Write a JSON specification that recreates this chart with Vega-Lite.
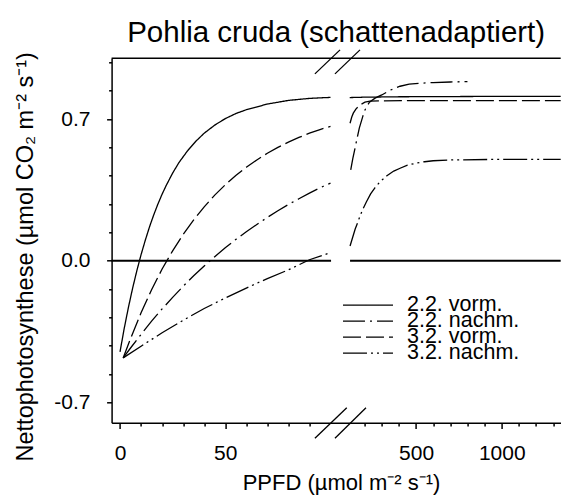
{
  "$schema": "https://vega.github.io/schema/vega-lite/v6.json",
  "width": 449.1,
  "height": 364.4,
  "autosize": {"type": "none"},
  "padding": {"left": 111.6, "top": 58.3, "right": 0, "bottom": 79.3},
  "background": "white",
  "title": {"text": "Pohlia cruda (schattenadaptiert)", "fontSize": 29.5, "font": "Liberation Sans", "fontWeight": "normal", "color": "black", "anchor": "middle", "baseline": "alphabetic", "offset": -22},
  "config": {"font": "Liberation Sans", "view": {"stroke": null}},
  "datasets": {
    "curves": [
      {"s": "2.2. vorm.", "seg": "L", "x": 0, "y": -0.45},
      {"s": "2.2. vorm.", "seg": "L", "x": 2, "y": -0.334},
      {"s": "2.2. vorm.", "seg": "L", "x": 4, "y": -0.23},
      {"s": "2.2. vorm.", "seg": "L", "x": 6, "y": -0.135},
      {"s": "2.2. vorm.", "seg": "L", "x": 8, "y": -0.049},
      {"s": "2.2. vorm.", "seg": "L", "x": 10, "y": 0.03},
      {"s": "2.2. vorm.", "seg": "L", "x": 12, "y": 0.101},
      {"s": "2.2. vorm.", "seg": "L", "x": 14, "y": 0.167},
      {"s": "2.2. vorm.", "seg": "L", "x": 16, "y": 0.226},
      {"s": "2.2. vorm.", "seg": "L", "x": 18, "y": 0.28},
      {"s": "2.2. vorm.", "seg": "L", "x": 20, "y": 0.329},
      {"s": "2.2. vorm.", "seg": "L", "x": 22, "y": 0.373},
      {"s": "2.2. vorm.", "seg": "L", "x": 25, "y": 0.433},
      {"s": "2.2. vorm.", "seg": "L", "x": 28, "y": 0.485},
      {"s": "2.2. vorm.", "seg": "L", "x": 32, "y": 0.542},
      {"s": "2.2. vorm.", "seg": "L", "x": 36, "y": 0.59},
      {"s": "2.2. vorm.", "seg": "L", "x": 40, "y": 0.63},
      {"s": "2.2. vorm.", "seg": "L", "x": 45, "y": 0.67},
      {"s": "2.2. vorm.", "seg": "L", "x": 50, "y": 0.702},
      {"s": "2.2. vorm.", "seg": "L", "x": 55, "y": 0.727},
      {"s": "2.2. vorm.", "seg": "L", "x": 60, "y": 0.746},
      {"s": "2.2. vorm.", "seg": "L", "x": 70, "y": 0.774},
      {"s": "2.2. vorm.", "seg": "L", "x": 80, "y": 0.792},
      {"s": "2.2. vorm.", "seg": "L", "x": 90, "y": 0.802},
      {"s": "2.2. vorm.", "seg": "L", "x": 100, "y": 0.807},
      {"s": "2.2. vorm.", "seg": "R", "x": 113, "y": 0.806},
      {"s": "2.2. vorm.", "seg": "R", "x": 200, "y": 0.808},
      {"s": "2.2. vorm.", "seg": "R", "x": 400, "y": 0.81},
      {"s": "2.2. vorm.", "seg": "R", "x": 700, "y": 0.811},
      {"s": "2.2. vorm.", "seg": "R", "x": 1000, "y": 0.812},
      {"s": "2.2. vorm.", "seg": "R", "x": 1344, "y": 0.812},

      {"s": "3.2. vorm.", "seg": "L", "x": 1.5, "y": -0.48},
      {"s": "3.2. vorm.", "seg": "L", "x": 5, "y": -0.385},
      {"s": "3.2. vorm.", "seg": "L", "x": 10, "y": -0.257},
      {"s": "3.2. vorm.", "seg": "L", "x": 15, "y": -0.143},
      {"s": "3.2. vorm.", "seg": "L", "x": 20, "y": -0.041},
      {"s": "3.2. vorm.", "seg": "L", "x": 25, "y": 0.049},
      {"s": "3.2. vorm.", "seg": "L", "x": 30, "y": 0.13},
      {"s": "3.2. vorm.", "seg": "L", "x": 35, "y": 0.202},
      {"s": "3.2. vorm.", "seg": "L", "x": 40, "y": 0.266},
      {"s": "3.2. vorm.", "seg": "L", "x": 45, "y": 0.324},
      {"s": "3.2. vorm.", "seg": "L", "x": 50, "y": 0.375},
      {"s": "3.2. vorm.", "seg": "L", "x": 55, "y": 0.421},
      {"s": "3.2. vorm.", "seg": "L", "x": 60, "y": 0.462},
      {"s": "3.2. vorm.", "seg": "L", "x": 65, "y": 0.498},
      {"s": "3.2. vorm.", "seg": "L", "x": 70, "y": 0.531},
      {"s": "3.2. vorm.", "seg": "L", "x": 75, "y": 0.56},
      {"s": "3.2. vorm.", "seg": "L", "x": 80, "y": 0.586},
      {"s": "3.2. vorm.", "seg": "L", "x": 85, "y": 0.609},
      {"s": "3.2. vorm.", "seg": "L", "x": 90, "y": 0.63},
      {"s": "3.2. vorm.", "seg": "L", "x": 95, "y": 0.648},
      {"s": "3.2. vorm.", "seg": "L", "x": 100, "y": 0.664},
      {"s": "3.2. vorm.", "seg": "R", "x": 115, "y": 0.679},
      {"s": "3.2. vorm.", "seg": "R", "x": 125, "y": 0.71},
      {"s": "3.2. vorm.", "seg": "R", "x": 134, "y": 0.729},
      {"s": "3.2. vorm.", "seg": "R", "x": 150, "y": 0.75},
      {"s": "3.2. vorm.", "seg": "R", "x": 163, "y": 0.761},
      {"s": "3.2. vorm.", "seg": "R", "x": 180, "y": 0.773},
      {"s": "3.2. vorm.", "seg": "R", "x": 202, "y": 0.783},
      {"s": "3.2. vorm.", "seg": "R", "x": 231, "y": 0.788},
      {"s": "3.2. vorm.", "seg": "R", "x": 300, "y": 0.79},
      {"s": "3.2. vorm.", "seg": "R", "x": 500, "y": 0.791},
      {"s": "3.2. vorm.", "seg": "R", "x": 1344, "y": 0.791},

      {"s": "2.2. nachm.", "seg": "L", "x": 1.5, "y": -0.48},
      {"s": "2.2. nachm.", "seg": "L", "x": 5, "y": -0.431},
      {"s": "2.2. nachm.", "seg": "L", "x": 10, "y": -0.364},
      {"s": "2.2. nachm.", "seg": "L", "x": 15, "y": -0.298},
      {"s": "2.2. nachm.", "seg": "L", "x": 20, "y": -0.238},
      {"s": "2.2. nachm.", "seg": "L", "x": 25, "y": -0.181},
      {"s": "2.2. nachm.", "seg": "L", "x": 30, "y": -0.126},
      {"s": "2.2. nachm.", "seg": "L", "x": 35, "y": -0.074},
      {"s": "2.2. nachm.", "seg": "L", "x": 40, "y": -0.026},
      {"s": "2.2. nachm.", "seg": "L", "x": 45, "y": 0.02},
      {"s": "2.2. nachm.", "seg": "L", "x": 50, "y": 0.064},
      {"s": "2.2. nachm.", "seg": "L", "x": 55, "y": 0.105},
      {"s": "2.2. nachm.", "seg": "L", "x": 60, "y": 0.143},
      {"s": "2.2. nachm.", "seg": "L", "x": 65, "y": 0.179},
      {"s": "2.2. nachm.", "seg": "L", "x": 70, "y": 0.214},
      {"s": "2.2. nachm.", "seg": "L", "x": 75, "y": 0.247},
      {"s": "2.2. nachm.", "seg": "L", "x": 80, "y": 0.278},
      {"s": "2.2. nachm.", "seg": "L", "x": 85, "y": 0.306},
      {"s": "2.2. nachm.", "seg": "L", "x": 90, "y": 0.334},
      {"s": "2.2. nachm.", "seg": "L", "x": 95, "y": 0.36},
      {"s": "2.2. nachm.", "seg": "L", "x": 100, "y": 0.383},
      {"s": "2.2. nachm.", "seg": "R", "x": 119, "y": 0.449},
      {"s": "2.2. nachm.", "seg": "R", "x": 131, "y": 0.505},
      {"s": "2.2. nachm.", "seg": "R", "x": 144, "y": 0.556},
      {"s": "2.2. nachm.", "seg": "R", "x": 156, "y": 0.605},
      {"s": "2.2. nachm.", "seg": "R", "x": 169, "y": 0.655},
      {"s": "2.2. nachm.", "seg": "R", "x": 189, "y": 0.712},
      {"s": "2.2. nachm.", "seg": "R", "x": 202, "y": 0.745},
      {"s": "2.2. nachm.", "seg": "R", "x": 228, "y": 0.783},
      {"s": "2.2. nachm.", "seg": "R", "x": 261, "y": 0.803},
      {"s": "2.2. nachm.", "seg": "R", "x": 300, "y": 0.819},
      {"s": "2.2. nachm.", "seg": "R", "x": 350, "y": 0.843},
      {"s": "2.2. nachm.", "seg": "R", "x": 407, "y": 0.862},
      {"s": "2.2. nachm.", "seg": "R", "x": 460, "y": 0.872},
      {"s": "2.2. nachm.", "seg": "R", "x": 523, "y": 0.877},
      {"s": "2.2. nachm.", "seg": "R", "x": 600, "y": 0.88},
      {"s": "2.2. nachm.", "seg": "R", "x": 700, "y": 0.883},
      {"s": "2.2. nachm.", "seg": "R", "x": 800, "y": 0.885},

      {"s": "3.2. nachm.", "seg": "L", "x": 1.5, "y": -0.48},
      {"s": "3.2. nachm.", "seg": "L", "x": 10, "y": -0.422},
      {"s": "3.2. nachm.", "seg": "L", "x": 20, "y": -0.356},
      {"s": "3.2. nachm.", "seg": "L", "x": 30, "y": -0.294},
      {"s": "3.2. nachm.", "seg": "L", "x": 40, "y": -0.236},
      {"s": "3.2. nachm.", "seg": "L", "x": 50, "y": -0.184},
      {"s": "3.2. nachm.", "seg": "L", "x": 60, "y": -0.135},
      {"s": "3.2. nachm.", "seg": "L", "x": 70, "y": -0.088},
      {"s": "3.2. nachm.", "seg": "L", "x": 80, "y": -0.045},
      {"s": "3.2. nachm.", "seg": "L", "x": 90, "y": 0.005},
      {"s": "3.2. nachm.", "seg": "L", "x": 100, "y": 0.04},
      {"s": "3.2. nachm.", "seg": "R", "x": 115, "y": 0.073},
      {"s": "3.2. nachm.", "seg": "R", "x": 130, "y": 0.115},
      {"s": "3.2. nachm.", "seg": "R", "x": 145, "y": 0.157},
      {"s": "3.2. nachm.", "seg": "R", "x": 160, "y": 0.19},
      {"s": "3.2. nachm.", "seg": "R", "x": 175, "y": 0.225},
      {"s": "3.2. nachm.", "seg": "R", "x": 190, "y": 0.255},
      {"s": "3.2. nachm.", "seg": "R", "x": 210, "y": 0.29},
      {"s": "3.2. nachm.", "seg": "R", "x": 235, "y": 0.33},
      {"s": "3.2. nachm.", "seg": "R", "x": 260, "y": 0.36},
      {"s": "3.2. nachm.", "seg": "R", "x": 290, "y": 0.39},
      {"s": "3.2. nachm.", "seg": "R", "x": 330, "y": 0.42},
      {"s": "3.2. nachm.", "seg": "R", "x": 370, "y": 0.443},
      {"s": "3.2. nachm.", "seg": "R", "x": 407, "y": 0.457},
      {"s": "3.2. nachm.", "seg": "R", "x": 450, "y": 0.472},
      {"s": "3.2. nachm.", "seg": "R", "x": 500, "y": 0.482},
      {"s": "3.2. nachm.", "seg": "R", "x": 550, "y": 0.489},
      {"s": "3.2. nachm.", "seg": "R", "x": 600, "y": 0.494},
      {"s": "3.2. nachm.", "seg": "R", "x": 700, "y": 0.498},
      {"s": "3.2. nachm.", "seg": "R", "x": 1000, "y": 0.501},
      {"s": "3.2. nachm.", "seg": "R", "x": 1344, "y": 0.501}
    ],
    "zeroline": [
      {"x": -4, "x2": 100.3, "y": 0},
      {"x": 115, "x2": 1344, "y": 0}
    ],
    "topline": [
      {"x": -4, "x2": 1344, "y": 1.0}
    ],
    "breaks": [
      {"x": 92.6, "x2": 105.1, "y": 0.923, "y2": 1.0415},
      {"x": 102.4, "x2": 173, "y": 0.923, "y2": 1.0415},
      {"x": 92.6, "x2": 108.7, "y": -0.877, "y2": -0.726},
      {"x": 102.4, "x2": 208, "y": -0.877, "y2": -0.726}
    ]
  },
  "encoding": {
    "x": {
      "field": "x", "type": "quantitative",
      "scale": {"domain": [-4, 100, 110, 1344], "range": [0, 218.9, 237.6, 449.1], "nice": false, "zero": false},
      "axis": {
        "title": "PPFD (µmol m⁻² s⁻¹)",
        "values": [0, 10, 20, 30, 40, 50, 60, 70, 80, 90, 200, 300, 400, 500, 600, 700, 800, 900, 1000, 1100, 1200, 1300],
        "format": "d",
        "labelExpr": "(datum.value == 0 || datum.value == 50 || datum.value == 500 || datum.value == 1000) ? datum.label : ''",
        "tickSize": {"condition": {"test": "datum.value == 0 || datum.value == 50 || datum.value == 500 || datum.value == 1000", "value": 5.7}, "value": 3.3},
        "tickColor": "black", "tickWidth": 1.5,
        "domainColor": "black", "domainWidth": 1.5,
        "labelFontSize": 21, "labelColor": "black", "labelPadding": 14,
        "labelFlush": false, "labelOverlap": false, "grid": false,
        "titleFontSize": 22, "titleFontWeight": "normal", "titleColor": "black",
        "titleBaseline": "alphabetic", "titleY": 67.3, "titleX": 229.4
      }
    },
    "y": {
      "field": "y", "type": "quantitative",
      "scale": {"domain": [-0.8, 1.0], "nice": false, "zero": false},
      "axis": {
        "title": "Nettophotosynthese (µmol CO₂ m⁻² s⁻¹)",
        "values": [-0.7, -0.56, -0.42, -0.28, -0.14, 0, 0.14, 0.28, 0.42, 0.56, 0.7, 0.84, 0.98],
        "labelExpr": "datum.value == 0.7 ? '0.7' : datum.value == 0 ? '0.0' : datum.value == -0.7 ? '-0.7' : ''",
        "tickSize": {"condition": {"test": "datum.value == 0.7 || datum.value == 0 || datum.value == -0.7", "value": 5}, "value": 3},
        "tickColor": "black", "tickWidth": 1.5,
        "domainColor": "black", "domainWidth": 1.5,
        "labelFontSize": 21, "labelColor": "black", "labelPadding": 16.6,
        "labelOverlap": false, "grid": false,
        "titleFontSize": 23.5, "titleFontWeight": "normal", "titleColor": "black",
        "titleBaseline": "alphabetic", "titleAngle": -90, "titleX": -79, "titleY": 198
      }
    }
  },
  "layer": [
    {
      "data": {"name": "zeroline"},
      "mark": {"type": "rule", "color": "black", "strokeWidth": 2},
      "encoding": {"x2": {"field": "x2"}}
    },
    {
      "data": {"name": "topline"},
      "mark": {"type": "rule", "color": "black", "strokeWidth": 1.5},
      "encoding": {"x2": {"field": "x2"}}
    },
    {
      "data": {"name": "breaks"},
      "mark": {"type": "rule", "color": "black", "strokeWidth": 1.3},
      "encoding": {"x2": {"field": "x2"}, "y2": {"field": "y2"}}
    },
    {
      "data": {"name": "curves"},
      "mark": {"type": "line", "color": "black", "strokeWidth": 1.3},
      "encoding": {
        "detail": {"field": "seg"},
        "strokeDash": {
          "field": "s", "type": "nominal",
          "scale": {"domain": ["2.2. vorm.", "2.2. nachm.", "3.2. vorm.", "3.2. nachm."], "range": [[1, 0], [22, 5, 2, 5], [18, 5], [24, 4, 2, 4, 2, 4]]},
          "legend": {
            "orient": "none", "legendX": 230.4, "legendY": 241.5, "title": null,
            "symbolType": "stroke", "symbolSize": 2500, "symbolStrokeWidth": 1.3, "symbolStrokeColor": "black",
            "clipHeight": 10.5, "labelFontSize": 21.5, "labelColor": "black", "labelOffset": 13,
            "rowPadding": -16, "padding": 0, "labelLimit": 300
          }
        }
      }
    }
  ]
}
